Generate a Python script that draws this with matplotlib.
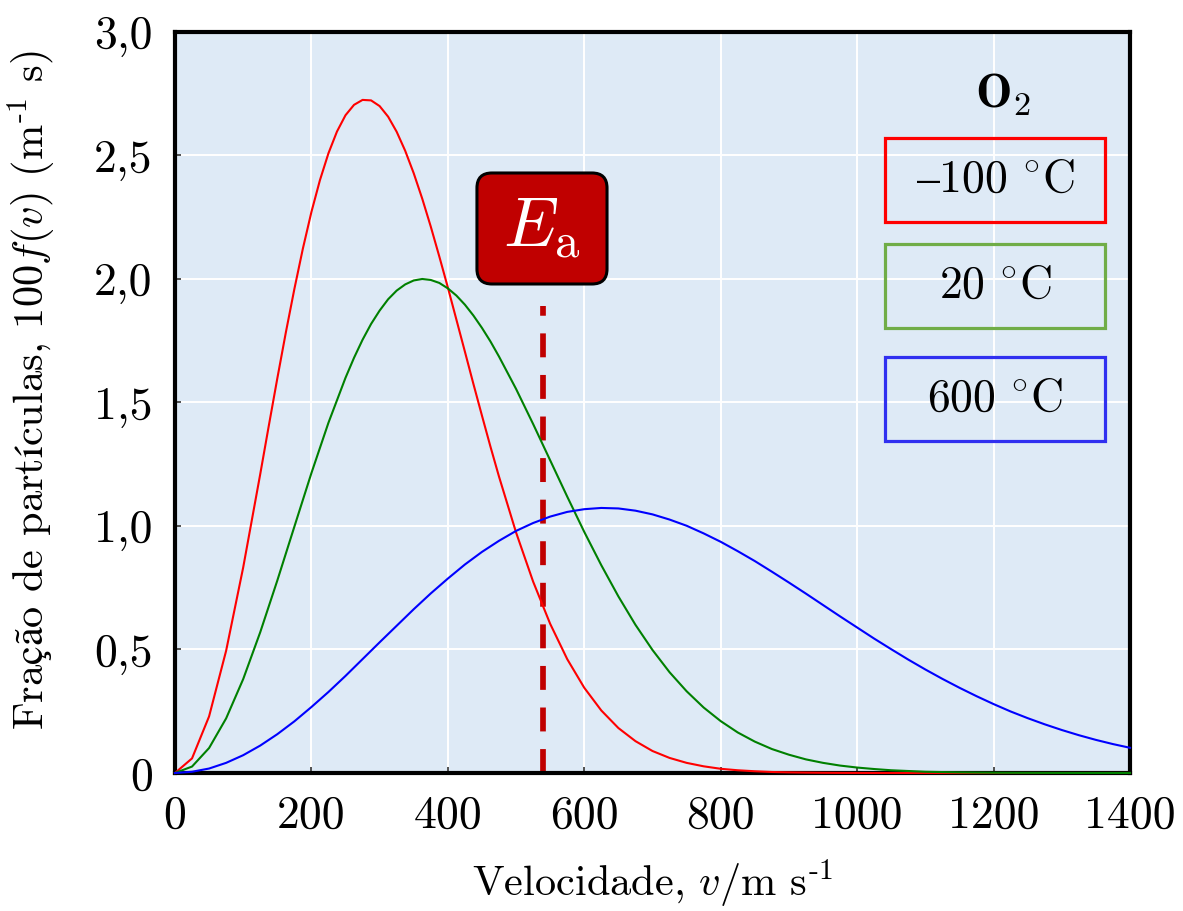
import matplotlib.pyplot as plt
from matplotlib.patches import Rectangle, FancyBboxPatch

plt.rcParams['font.family'] = ['cmr10', 'STIXGeneral']
plt.rcParams['mathtext.fontset'] = 'cm'
plt.rcParams['axes.formatter.use_mathtext'] = True

# velocidade (m/s) e 100 f(v)
velocidade = list(range(0, 1401, 25))
f_menos100 = [0, 0.059, 0.229, 0.495, 0.832, 1.210, 1.597, 1.959, 2.271, 2.509,
              2.663, 2.725, 2.700, 2.596, 2.428, 2.212, 1.966, 1.706, 1.447, 1.200,
              0.974, 0.775, 0.604, 0.461, 0.345, 0.253, 0.182, 0.129, 0.089, 0.061,
              0.041, 0.027, 0.017, 0.011, 0.007, 0.004, 0.0025, 0.0015, 0.0008, 0.0004,
              0.0002, 0, 0, 0, 0, 0, 0, 0, 0, 0, 0, 0, 0, 0, 0, 0, 0]
f_20 = [0, 0.026, 0.101, 0.221, 0.380, 0.570, 0.779, 0.997, 1.214, 1.418,
        1.600, 1.754, 1.872, 1.953, 1.994, 1.996, 1.962, 1.896, 1.802, 1.686,
        1.555, 1.413, 1.266, 1.119, 0.976, 0.841, 0.715, 0.600, 0.498, 0.408,
        0.331, 0.265, 0.210, 0.164, 0.127, 0.097, 0.074, 0.055, 0.041, 0.030,
        0.022, 0.016, 0.011, 0.008, 0.005, 0.0037, 0.0025, 0.0017, 0.0011, 0.0007,
        0.0005, 0.0003, 0.0002, 0.0001, 0, 0, 0]
f_600 = [0, 0.005, 0.018, 0.041, 0.072, 0.111, 0.157, 0.209, 0.267, 0.328,
         0.393, 0.461, 0.529, 0.596, 0.663, 0.727, 0.787, 0.844, 0.895, 0.940,
         0.980, 1.012, 1.038, 1.057, 1.068, 1.073, 1.071, 1.062, 1.047, 1.026,
         1.001, 0.970, 0.936, 0.898, 0.858, 0.815, 0.771, 0.726, 0.680, 0.634,
         0.589, 0.544, 0.501, 0.459, 0.419, 0.381, 0.345, 0.311, 0.279, 0.249,
         0.222, 0.197, 0.174, 0.153, 0.134, 0.117, 0.102]

# pontos extra perto dos picos
v_extra_menos100 = [137.5, 162.5, 187.5, 212.5, 237.5, 262.5, 287.5, 312.5,
                    337.5, 362.5, 387.5, 412.5, 437.5, 462.5]
f_extra_menos100 = [1.405, 1.783, 2.123, 2.400, 2.597, 2.705, 2.723, 2.657,
                    2.519, 2.325, 2.091, 1.836, 1.575, 1.321]
v_extra_20 = [262.5, 287.5, 312.5, 337.5, 362.5, 387.5, 412.5, 437.5, 462.5]
f_extra_20 = [1.681, 1.818, 1.918, 1.978, 2.000, 1.984, 1.933, 1.852, 1.747]

temperaturas = [r'$\mathrm{–100\ {}^{\circ}C}$', r'$\mathrm{20\ {}^{\circ}C}$',
                r'$\mathrm{600\ {}^{\circ}C}$']
cores_linha = ['#FF0000', '#008000', '#0000FF']
cores_caixa = ['#FF0000', '#70AD47', '#3030F0']

v_ea = 540
y_ea_topo = 1.89

x_ticks = [0, 200, 400, 600, 800, 1000, 1200, 1400]
y_ticks = [0, 0.5, 1.0, 1.5, 2.0, 2.5, 3.0]
y_ticklabels = ['0', '0,5', '1,0', '1,5', '2,0', '2,5', '3,0']


def juntar(v, f, v_extra, f_extra):
    pares = sorted(zip(list(v) + v_extra, list(f) + f_extra))
    return [p[0] for p in pares], [p[1] for p in pares]


series = [
    juntar(velocidade, f_menos100, v_extra_menos100, f_extra_menos100),
    juntar(velocidade, f_20, v_extra_20, f_extra_20),
    (velocidade, f_600),
]

fig = plt.figure(figsize=(11.83, 9.11), dpi=100)
ax = fig.add_axes([0.1479, 0.1515, 0.8073, 0.8134])
ax.set_facecolor('#DEEAF6')

for (x, y), cor in zip(series, cores_linha):
    ax.plot(x, y, color=cor, lw=1.5, zorder=3, clip_on=False)

ax.plot([v_ea, v_ea], [0, y_ea_topo], color='#C00000', lw=4.1,
        dashes=(4.2, 3.1), dash_capstyle='butt', zorder=2)

ax.set_xlim(0, 1400)
ax.set_ylim(0, 3.0)
ax.set_xticks(x_ticks)
ax.set_xticklabels([str(t) for t in x_ticks])
ax.set_yticks(y_ticks)
ax.set_yticklabels(y_ticklabels)
ax.tick_params(labelsize=33, direction='in', length=4, width=1.2, pad=16,
               color='#333333')
ax.grid(True, color='white', lw=1.4)
ax.set_axisbelow(True)
for s in ax.spines.values():
    s.set_linewidth(3)
    s.set_color('black')

ax.set_xlabel(r'$\text{Velocidade, }v\text{/m s}^{\text{-}1}$', fontsize=30.5)
ax.xaxis.set_label_coords(0.5, -0.114)
ax.set_ylabel(r'$\text{Fração de partículas, 100}f(v)\text{ (m}^{\text{-}1}\text{ s)}$',
              fontsize=30.5)
ax.yaxis.set_label_coords(-0.123, 0.517)

# caixa E_a
caixa = FancyBboxPatch((0.3162, 0.6599), 0.1362, 0.1498,
                       boxstyle='round,pad=0,rounding_size=0.0157',
                       mutation_aspect=955 / 741, transform=ax.transAxes,
                       fc='#C00000', ec='black', lw=2.2, zorder=4)
ax.add_patch(caixa)
ax.text(0.3843, 0.7348, r'$E_\mathrm{a}$', transform=ax.transAxes, color='white',
        fontsize=50, ha='center', va='center', zorder=5)

# legenda
ax.text(0.867, 0.915, r'$\mathbf{O_2}$', transform=ax.transAxes, fontsize=35,
        ha='center', va='center', zorder=5)
caixas_y = [0.7436, 0.6005, 0.448]
for txt, cor, y0 in zip(temperaturas, cores_caixa, caixas_y):
    ax.add_patch(Rectangle((0.7435, y0), 0.2303, 0.1134, transform=ax.transAxes,
                           fc='none', ec=cor, lw=2.3, zorder=4))
    ax.text(0.8587, y0 + 0.0567, txt, transform=ax.transAxes, fontsize=33,
            ha='center', va='center', zorder=5)

fig.savefig('out.png', dpi=100)
